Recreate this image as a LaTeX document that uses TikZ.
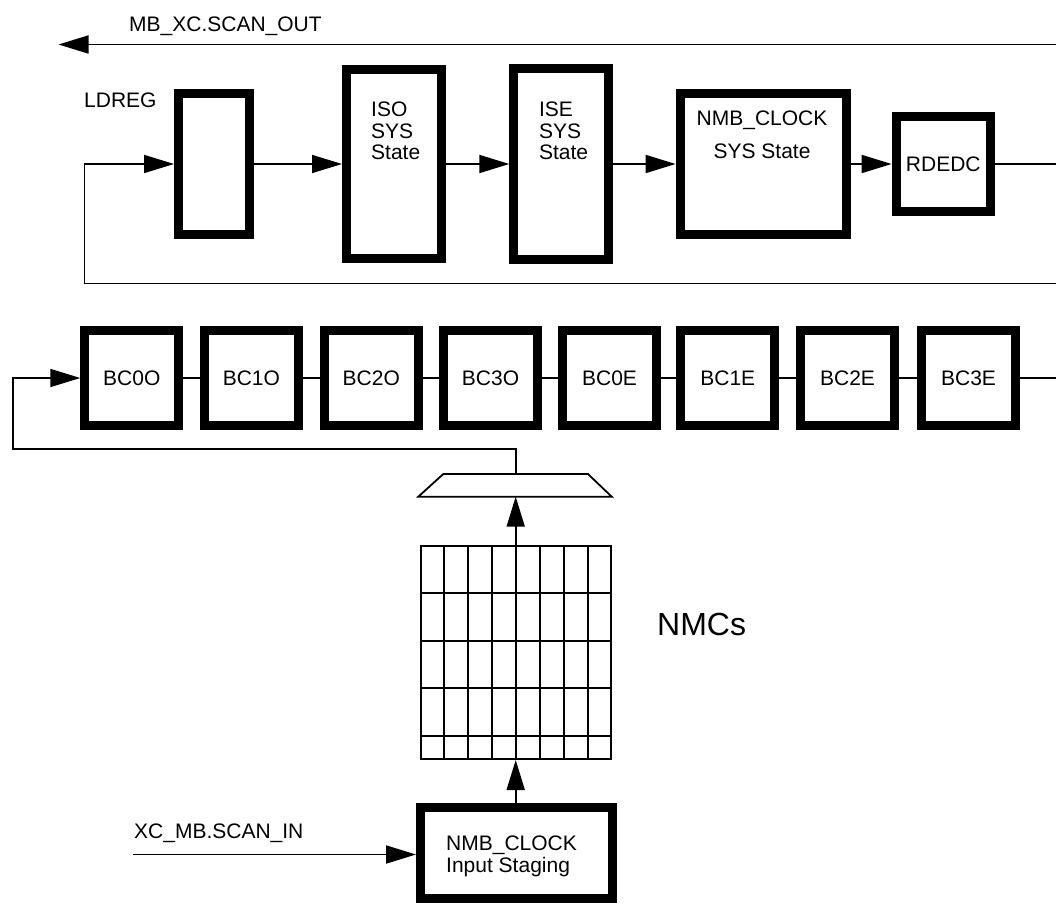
\documentclass[tikz,border=0pt]{standalone}
\usepackage{fontspec}
\setmainfont{Liberation Sans}
\usetikzlibrary{arrows.meta}
\begin{document}
\begin{tikzpicture}[x=1pt,y=-1pt,
  wire/.style={line width=1.8pt},
  arr/.style={wire,-{Triangle[length=30pt,width=18pt]}},
  tbox/.style={draw,line width=9pt,inner sep=0pt,font=\fontsize{21}{21.3}\selectfont,text depth=0pt},
  lbl/.style={inner sep=0pt,font=\fontsize{21}{21.3}\selectfont,text depth=0pt},
  bcbox/.style={tbox,minimum width=94pt,minimum height=95pt},
]
\useasboundingbox (0,0) rectangle (1056,904);

% ---- top chain ----
\coordinate (outR) at (1056,44.5);
\coordinate (outL) at (58.5,44.5);
\draw[arr] (outR) -- (outL);
\node[lbl,anchor=west] (outlbl) at (129,24) {MB\_XC.SCAN\_OUT};

\node[lbl,anchor=west] (ldreglbl) at (84,100) {LDREG};
\node[tbox,minimum width=70.9pt,minimum height=141.7pt] (ldreg) at (214,164) {};
\node[tbox,minimum width=95pt,minimum height=189.4pt] (iso) at (394,164) {};
\node[lbl,anchor=west,align=left] (isotxt) at (371,130.7) {ISO\\SYS\\State};
\node[tbox,minimum width=94.4pt,minimum height=190pt] (ise) at (561,164) {};
\node[lbl,anchor=west,align=left] (isetxt) at (538.8,130.7) {ISE\\SYS\\State};
\node[tbox,minimum width=166.4pt,minimum height=141.3pt] (nmb) at (763.3,164) {};
\node[lbl,align=center,font=\fontsize{21}{32.7}\selectfont] (nmbtxt) at (762,134.7) {NMB\_CLOCK\\SYS State};
\node[tbox,minimum width=94.4pt,minimum height=94pt] (rdedc) at (943.3,164) {RDEDC};

\coordinate (rdR) at (1056,164);
\coordinate (loopR) at (1056,283.5);
\coordinate (loopL) at (84.4,283.5);

\draw[arr] (ldreg.east) -- (ldreg.east -| iso.west);
\draw[arr] (iso.east) -- (iso.east -| ise.west);
\draw[arr] (ise.east) -- (ise.east -| nmb.west);
\draw[arr] (nmb.east) -- (nmb.east -| rdedc.west);
\draw[wire] (rdedc.east) -- (rdR);
\draw[arr] (loopR) -- (loopL) |- (ldreg.west);

% ---- BC row ----
\node[bcbox] (bc0o) at (131.75,378) {BC0O};
\node[bcbox] (bc1o) at (251.35,378) {BC1O};
\node[bcbox] (bc2o) at (371.3,378) {BC2O};
\node[bcbox] (bc3o) at (490.5,378) {BC3O};
\node[bcbox] (bc0e) at (609.5,378) {BC0E};
\node[bcbox] (bc1e) at (727.8,378) {BC1E};
\node[bcbox] (bc2e) at (847.55,378) {BC2E};
\node[bcbox] (bc3e) at (968.55,378) {BC3E};
\coordinate (bcR) at (1056,378);
\draw[wire] (bc0o.east) -- (bc1o.west);
\draw[wire] (bc1o.east) -- (bc2o.west);
\draw[wire] (bc2o.east) -- (bc3o.west);
\draw[wire] (bc3o.east) -- (bc0e.west);
\draw[wire] (bc0e.east) -- (bc1e.west);
\draw[wire] (bc1e.east) -- (bc2e.west);
\draw[wire] (bc2e.east) -- (bc3e.west);
\draw[wire] (bc3e.east) -- (bcR);

% ---- mux ----
\coordinate (muxtop) at (515.7,474);
\coordinate (muxbot) at (515.7,496.7);
\coordinate (bcL) at (12.7,449.3);
\draw[wire,line join=miter] (443.3,474) -- (588,474) -- (611.7,496.7) -- (418.3,496.7) -- cycle;
\draw[arr] (muxtop) |- (bcL) |- (bc0o.west);

% ---- NMC grid ----
\node[draw,line width=2pt,inner sep=0pt,minimum width=190.3pt,minimum height=213pt] (grid) at (516.15,652.5) {};
\foreach \k in {1,...,7} {
  \draw[line width=2pt] ({420+24.04*\k},545) -- ({420+24.04*\k},760);
}
\foreach \yy in {593.3,640.7,688.3,736} {
  \draw[line width=2pt] (420,\yy) -- (612.3,\yy);
}
\draw[arr] (grid.north -| muxbot) -- (muxbot);
\node[inner sep=0pt,anchor=west,font=\fontsize{32}{32}\selectfont,text depth=0pt] (nmcs) at (657,624.7) {NMCs};

% ---- input staging ----
\node[tbox,minimum width=192.3pt,minimum height=91.3pt] (stage) at (516.65,852.85) {};
\node[lbl,anchor=west,align=left,font=\fontsize{21}{22}\selectfont] (stagetxt) at (446,854) {NMB\_CLOCK\\Input Staging};
\draw[arr] (stage.north -| muxbot) -- (grid.south -| muxbot);
\coordinate (inL) at (133,854.5);
\draw[arr] (inL) -- (inL -| stage.west);
\node[lbl,anchor=west] (inlbl) at (134,831) {XC\_MB.SCAN\_IN};
\end{tikzpicture}
\end{document}
